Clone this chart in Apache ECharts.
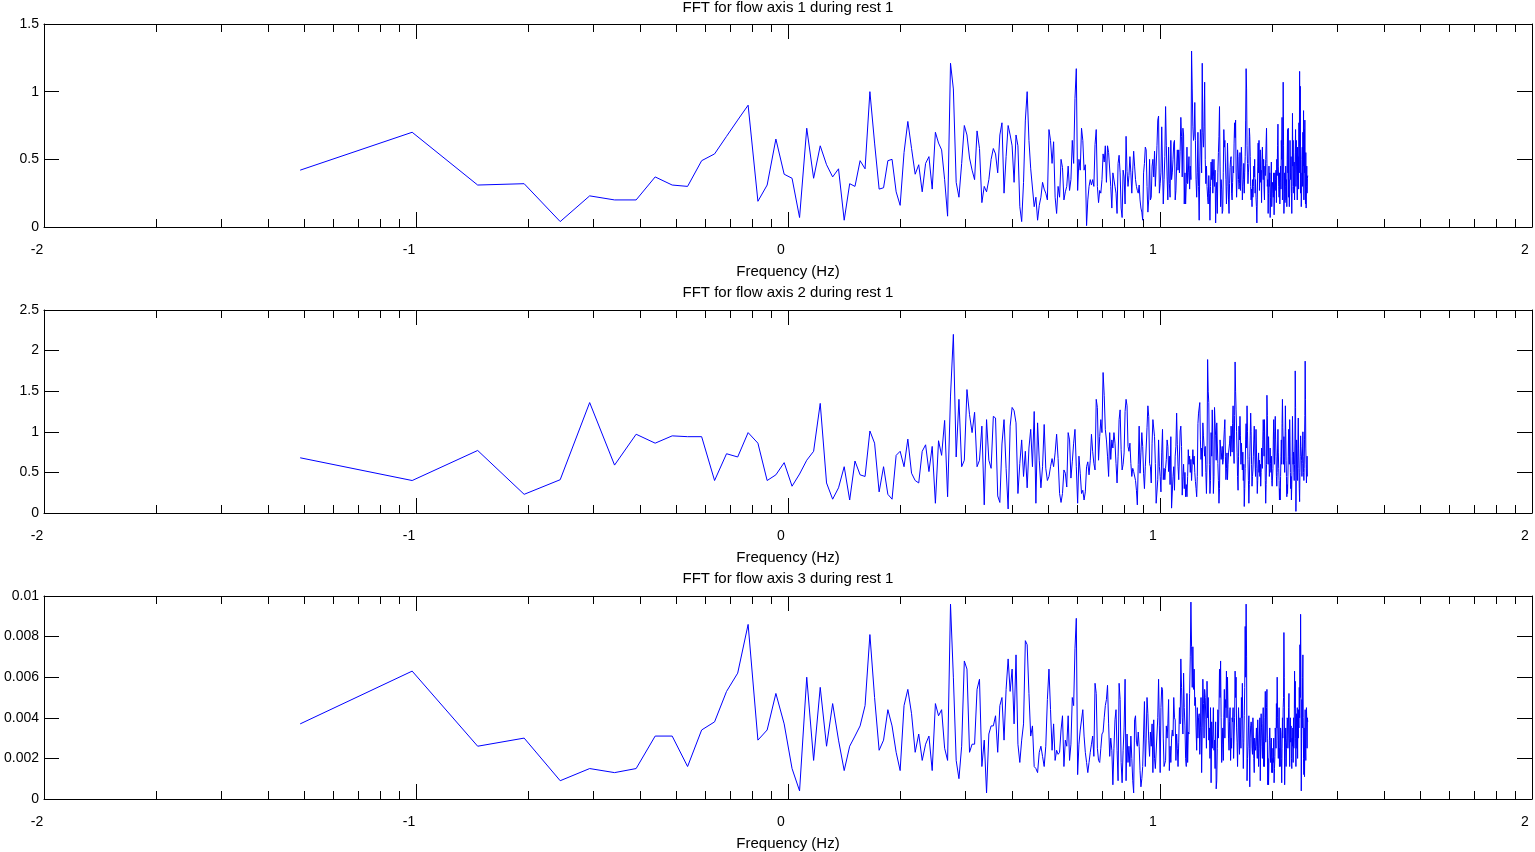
<!DOCTYPE html>
<html>
<head>
<meta charset="utf-8">
<title>FFT for flow during rest 1</title>
<script src="https://cdn.jsdelivr.net/npm/echarts@6/dist/echarts.min.js"></script>
<style>
html, body { margin: 0; padding: 0; background: #ffffff; }
#chart { width: 1535px; height: 852px; }
</style>
</head>
<body>
<div id="chart"></div>
<script>
// frequency grid of the one sided spectrum: bin k sits at k * sampleRate / fftLength
var sampleRate = 50;
var fftLength = 1024;
var freqStep = sampleRate / fftLength;

// amplitudes per bin (k = 1..511)
// axis 1 and 2 are in hundredths, axis 3 in units of 1e-4
var flowAxis1 = [
	42,70,31,32,4,23,20,20,37,31,
	30,49,54,67,79,90,19,31,65,39,
	36,7,73,36,60,46,37,43,5,32,
	30,49,43,100,62,28,29,49,50,26,
	16,55,78,58,39,46,26,47,52,28,
	70,62,57,35,8,121,102,33,22,47,
	75,68,51,42,35,71,58,18,30,26,
	35,50,58,54,40,68,77,25,52,75,
	68,60,33,68,60,15,4,33,79,100,
	64,43,44,15,22,5,16,22,33,28,
	25,20,72,64,47,63,22,10,30,22,
	50,44,20,26,30,45,27,35,64,47,
	95,117,27,50,42,73,64,42,46,1,
	20,30,35,31,35,30,61,72,30,18,
	27,25,35,54,48,60,33,60,55,54,
	30,14,40,40,30,25,10,47,53,40,
	14,7,42,37,17,67,41,30,38,52,
	40,25,42,56,45,35,30,27,25,31,
	20,14,11,5,40,47,59,57,30,11,
	20,50,20,22,45,50,37,56,30,45,
	60,79,82,25,32,40,74,73,17,35,
	52,89,60,37,20,59,32,22,64,35,
	40,50,62,64,20,27,45,57,42,57,
	40,56,81,67,37,73,68,17,40,17,
	32,59,32,40,52,28,45,35,130,102,
	74,64,68,92,64,35,22,40,70,30,
	5,45,72,62,40,121,70,59,74,107,
	50,32,45,30,22,17,38,25,5,30,
	48,35,50,25,37,50,30,42,3,25,
	33,10,40,55,67,89,45,15,35,28,
	10,12,40,72,59,64,48,35,17,30,
	62,45,20,10,32,44,50,52,25,20,
	33,45,40,62,77,66,79,40,22,35,
	57,52,35,28,32,55,27,44,59,45,
	20,30,35,47,25,40,52,79,117,102,
	60,47,32,40,47,73,67,52,30,20,
	28,15,35,22,30,45,37,50,25,35,
	22,15,3,20,45,62,40,64,27,45,
	57,33,42,18,50,59,42,35,50,28,
	20,45,38,50,62,73,47,30,35,10,
	25,45,30,40,7,22,35,48,15,25,
	33,30,22,40,9,28,40,27,35,42,
	18,50,38,60,76,45,30,22,40,17,
	33,45,28,64,50,81,20,45,107,60,
	10,25,40,18,30,45,20,35,15,50,
	72,40,73,22,35,15,28,64,40,35,
	52,25,10,30,84,45,64,30,25,48,
	20,40,55,72,30,64,45,37,20,59,
	35,52,28,77,40,115,60,104,25,40,
	15,25,50,59,30,70,45,86,20,72,
	40,79,30,17,55,14,30,45,25,36,
	38
];

var flowAxis2 = [
	68,40,77,23,41,136,59,97,86,95,
	94,94,40,73,69,99,86,40,47,62,
	33,48,65,76,135,37,17,31,57,16,
	64,47,45,101,86,26,57,23,17,71,
	76,57,91,49,40,37,76,84,51,82,
	12,89,71,114,20,144,220,69,140,57,
	65,152,121,99,124,57,65,107,10,115,
	65,55,119,117,21,13,85,115,55,5,
	107,130,126,111,24,61,90,45,76,31,
	80,103,57,125,12,111,65,31,57,109,
	55,40,45,57,67,57,74,97,67,24,
	13,24,53,49,32,99,90,43,63,86,
	103,57,12,70,49,24,28,16,26,57,
	63,47,65,97,76,61,53,140,130,65,
	94,115,99,173,145,103,90,70,45,99,
	66,90,80,99,86,61,37,70,115,127,
	78,53,60,74,125,140,132,82,76,86,
	61,45,55,51,53,40,28,10,60,107,
	49,74,99,82,49,30,57,80,105,132,
	119,61,57,37,86,115,113,94,61,12,
	12,41,90,57,45,26,74,103,41,55,
	41,55,66,90,82,51,70,35,94,6,
	6,45,57,28,70,82,123,84,57,41,
	41,101,107,82,22,45,60,30,50,20,
	35,20,45,78,60,70,50,66,40,60,
	78,60,70,50,39,30,20,45,110,123,
	123,136,90,66,80,45,111,95,82,70,
	82,50,24,60,189,150,136,60,24,40,
	99,70,127,90,24,45,130,110,95,65,
	111,85,61,40,12,30,90,80,66,74,
	82,60,66,90,103,115,70,41,55,74,
	41,60,74,80,86,95,70,107,90,75,
	110,132,80,61,120,186,150,127,100,75,
	45,28,70,107,90,119,95,60,86,70,
	53,75,40,60,8,30,55,90,110,80,
	132,100,66,40,12,35,70,95,123,100,
	60,33,45,53,70,90,107,85,60,45,
	103,80,55,24,40,60,74,50,65,45,
	60,33,50,80,66,55,90,115,100,70,
	115,80,40,12,35,60,145,120,80,60,
	94,70,45,55,80,61,50,70,40,33,
	33,55,90,115,80,60,100,119,90,70,
	45,33,50,80,103,75,55,40,16,30,
	16,45,70,90,60,110,140,105,85,60,
	94,70,50,80,132,100,65,45,20,35,
	24,45,70,103,80,60,115,90,50,30,
	45,16,35,70,119,90,60,75,50,40,
	60,85,175,130,2,40,90,70,55,40,
	90,117,80,55,30,14,50,70,95,82,
	82,65,45,61,80,100,70,50,40,55,
	90,120,187,140,80,60,37,55,70,45,
	45
];

var flowAxis3 = [
	37,63,26,30,9,15,13,15,31,31,
	16,34,38,53,62,86,29,34,52,37,
	15,4,60,19,55,26,47,29,14,26,
	31,36,46,81,50,24,29,44,36,23,
	14,46,54,42,23,32,19,27,31,14,
	47,41,44,25,19,96,60,19,10,26,
	68,64,23,27,27,54,59,16,29,3,
	32,36,36,41,23,46,50,29,54,69,
	53,64,37,71,27,18,29,37,78,76,
	52,31,36,16,15,13,23,26,21,16,
	26,49,64,44,24,37,19,24,22,23,
	34,41,16,29,26,41,19,27,50,46,
	74,89,12,27,34,34,44,31,23,18,
	13,18,23,27,31,21,57,52,25,19,
	18,25,32,33,40,46,49,56,37,21,
	30,24,7,25,39,44,24,9,57,49,
	18,8,24,35,59,9,32,18,26,16,
	31,20,9,3,39,41,28,26,33,26,
	14,6,10,16,32,48,16,30,50,42,
	29,21,33,26,37,13,39,20,15,15,
	15,40,59,36,13,45,55,54,30,16,
	16,19,36,30,37,49,14,26,18,30,
	34,31,50,40,39,19,32,25,16,28,
	45,37,69,55,40,32,62,45,36,20,
	16,52,18,33,32,52,70,97,75,55,
	75,54,64,46,50,35,24,45,30,40,
	42,22,35,50,13,35,59,47,30,54,
	50,39,25,58,40,50,29,35,20,45,
	8,38,25,32,45,24,29,15,38,5,
	9,25,44,30,44,64,50,68,40,18,
	27,35,19,40,54,30,49,45,63,40,
	60,44,30,24,38,45,19,30,25,40,
	38,45,20,31,40,63,50,60,35,28,
	16,30,45,35,22,40,32,25,50,40,
	57,30,15,28,41,55,85,60,96,70,
	9,20,26,35,41,25,6,30,36,38,
	36,25,22,40,32,20,13,30,26,24,
	29,35,26,20,39,30,16,25,32,40,
	9,30,42,35,26,20,37,45,16,28,
	16,40,53,28,34,45,54,30,7,20,
	7,20,29,35,28,18,23,30,13,20,
	13,25,18,30,8,15,21,35,30,25,
	47,35,60,40,29,20,32,45,16,25,
	16,35,32,20,8,25,40,30,45,50,
	82,60,7,20,28,35,16,25,30,40,
	39,25,32,45,52,30,16,35,40,28,
	36,20,15,30,26,35,18,40,25,30,
	63,45,58,30,16,35,42,25,45,20,
	41,30,44,35,55,40,76,50,91,60,
	4,30,49,35,60,71,40,20,12,35,
	11,30,44,25,19,35,45,39,25,40,
	38
];

var plotTitles = [
	'FFT for flow axis 1 during rest 1',
	'FFT for flow axis 2 during rest 1',
	'FFT for flow axis 3 during rest 1'
];
var xLabelText = 'Frequency (Hz)';

// x axis shows log10 of the frequency, decades -2..2
var xTicks = [-2, -1, 0, 1, 2];
var yTicks1 = [0, 0.5, 1, 1.5];
var yTicks2 = [0, 0.5, 1, 1.5, 2, 2.5];
var yTicks3 = [0, 0.002, 0.004, 0.006, 0.008, 0.01];

function PanelChart(divId) {
	var myChart = echarts.init(document.getElementById(divId));
	var chartOption;

	var panels = [
		{ title : plotTitles[0], amps : flowAxis1, scale : 0.01,   yTicks : yTicks1, top : 24,  titleTop : 0 },
		{ title : plotTitles[1], amps : flowAxis2, scale : 0.01,   yTicks : yTicks2, top : 310, titleTop : 285 },
		{ title : plotTitles[2], amps : flowAxis3, scale : 0.0001, yTicks : yTicks3, top : 596, titleTop : 571 }
	];

	var black = '#000000';
	var fontFamily = 'Arial, "Liberation Sans", sans-serif';

	// minor ticks at 2..9 x 10^e, in log10 units
	var minorTicks = [];
	for (var e = xTicks[0]; e < xTicks[xTicks.length - 1]; e++) {
		for (var m = 2; m <= 9; m++) {
			minorTicks.push(e + Math.log10(m));
		}
	}

	function buildPoints(amps, scale) {
		var pts = [];
		for (var i = 0; i < amps.length; i++) {
			var freq = (i + 1) * freqStep;
			pts.push([Math.log10(freq), amps[i] * scale]);
		}
		return pts;
	}

	function xAxisPair(gridIndex, position, main) {
		var xmin = xTicks[0], xmax = xTicks[xTicks.length - 1];
		var major = {
			gridIndex : gridIndex,
			type : 'value',
			position : position,
			min : xmin,
			max : xmax,
			interval : 1,
			splitLine : { show : false },
			axisLine : { show : true, onZero : false, lineStyle : { color : black, width : 1 } },
			axisTick : { show : true, inside : true, length : 15, lineStyle : { color : black, width : 1 } },
			axisLabel : { show : false }
		};
		if (main) {
			major.axisLabel = {
				show : true,
				color : black,
				fontSize : 14,
				fontFamily : fontFamily,
				margin : 16,
				padding : [0, 14, 0, 0],
				formatter : function (v) { return String(Math.round(v)); }
			};
			major.name = xLabelText;
			major.nameLocation = 'middle';
			major.nameGap = 37;
			major.nameTextStyle = { color : black, fontSize : 15, fontFamily : fontFamily };
		}
		var minor = {
			gridIndex : gridIndex,
			type : 'value',
			position : position,
			min : xmin,
			max : xmax,
			splitLine : { show : false },
			axisLine : { show : false, onZero : false },
			axisLabel : { show : false },
			axisTick : { show : true, inside : true, length : 8, customValues : minorTicks,
				lineStyle : { color : black, width : 1 } }
		};
		return [major, minor];
	}

	function yAxisFor(gridIndex, position, yt, withLabels) {
		return {
			gridIndex : gridIndex,
			type : 'value',
			position : position,
			min : yt[0],
			max : yt[yt.length - 1],
			interval : yt[1] - yt[0],
			splitLine : { show : false },
			axisLine : { show : true, onZero : false, lineStyle : { color : black, width : 1 } },
			axisTick : { show : true, inside : true, length : 15, lineStyle : { color : black } },
			axisLabel : withLabels ? {
				color : black,
				fontSize : 14,
				fontFamily : fontFamily,
				margin : 5,
				formatter : function (v) { return String(parseFloat(v.toFixed(6))); }
			} : { show : false }
		};
	}

	function initOption() {
		var grids = [], xAxes = [], yAxes = [], titles = [], series = [];

		for (var i = 0; i < panels.length; i++) {
			var p = panels[i];

			grids.push({ left : 44, width : 1488, top : p.top, height : 203, containLabel : false });

			titles.push({
				text : p.title,
				left : 788,
				top : p.titleTop,
				textAlign : 'center',
				padding : 0,
				textStyle : { color : black, fontSize : 15, fontWeight : 'normal', fontFamily : fontFamily }
			});

			xAxes = xAxes.concat(xAxisPair(i, 'bottom', true), xAxisPair(i, 'top', false));
			yAxes.push(yAxisFor(i, 'left', p.yTicks, true));
			yAxes.push(yAxisFor(i, 'right', p.yTicks, false));

			series.push({
				type : 'line',
				xAxisIndex : i * 4,
				yAxisIndex : i * 2,
				data : buildPoints(p.amps, p.scale),
				symbol : 'none',
				showSymbol : false,
				silent : true,
				lineStyle : { color : '#0000ff', width : 1 },
				itemStyle : { color : '#0000ff' }
			});
		}

		chartOption = {
			backgroundColor : '#ffffff',
			animation : false,
			title : titles,
			grid : grids,
			xAxis : xAxes,
			yAxis : yAxes,
			series : series
		};
	}

	this.draw = function() {
		myChart.setOption(chartOption);
	};

	// Constructor Code.
	initOption();
}

var chart = new PanelChart('chart');
chart.draw();
</script>
</body>
</html>
